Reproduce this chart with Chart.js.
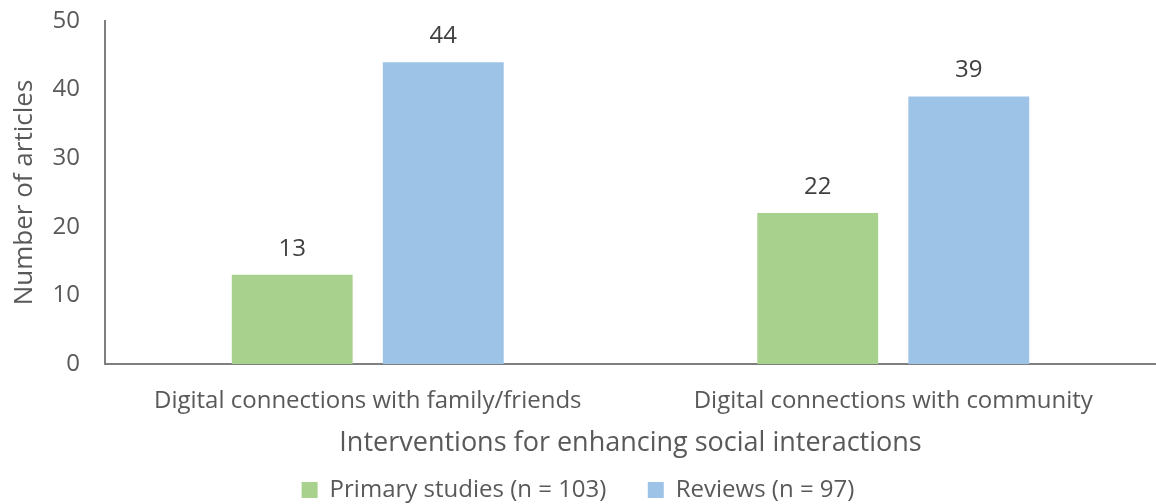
<!DOCTYPE html>
<html>
<head>
<meta charset="utf-8">
<script src="https://cdn.jsdelivr.net/npm/chart.js@4/dist/chart.umd.min.js"></script>
<style>
  html, body { margin: 0; padding: 0; background: #ffffff; }
  #wrap { width: 1156px; height: 504px; position: relative; }
</style>
</head>
<body>
<div id="wrap"><canvas id="chart" width="1156" height="504"></canvas></div>
<script>
const categories = ['Digital connections with family/friends', 'Digital connections with community'];
const primaryStudies = [13, 22];
const reviews = [44, 39];
const seriesNames = ['Primary studies (n = 103)', 'Reviews (n = 97)'];
const yTicks = [0, 10, 20, 30, 40, 50];

const FONT = '"Open Sans", "Noto Sans", sans-serif';
const TEXT = '#595959';
const AXIS = '#7f7f7f';

// Writes each bar's value above it
const valueLabels = {
  id: 'valueLabels',
  afterDatasetsDraw(chart) {
    const ctx = chart.ctx;
    ctx.save();
    ctx.font = '24px ' + FONT;
    ctx.fillStyle = '#404040';
    ctx.textAlign = 'center';
    ctx.textBaseline = 'alphabetic';
    chart.data.datasets.forEach((ds, i) => {
      chart.getDatasetMeta(i).data.forEach((bar, j) => {
        ctx.fillText(String(ds.data[j]), bar.x, bar.y - 19);
      });
    });
    ctx.restore();
  }
};

new Chart(document.getElementById('chart'), {
  type: 'bar',
  data: {
    labels: categories,
    datasets: [
      { label: seriesNames[0], data: primaryStudies, backgroundColor: '#a9d18e' },
      { label: seriesNames[1], data: reviews, backgroundColor: '#9dc3e6' }
    ]
  },
  options: {
    responsive: false,
    animation: false,
    devicePixelRatio: 1,
    layout: { padding: { top: 21, right: 0, left: 0, bottom: -8 } },
    datasets: { bar: { categoryPercentage: 0.575, barPercentage: 0.8 } },
    plugins: {
      legend: {
        position: 'bottom',
        labels: {
          font: { family: FONT, size: 24 },
          color: TEXT,
          boxWidth: 16,
          boxHeight: 16,
          padding: 4,
          // wider gap between the two legend entries
          generateLabels: (chart) => {
            const items = Chart.defaults.plugins.legend.labels.generateLabels(chart);
            items.forEach((it, i) => {
              if (i < items.length - 1) it.text = it.text + '      ';
            });
            return items;
          }
        }
      },
      tooltip: { enabled: false }
    },
    scales: {
      x: {
        afterFit: (scale) => { scale.height = 110; },
        grid: { display: false },
        border: { display: true, color: AXIS, width: 2 },
        ticks: { font: { family: FONT, size: 24 }, color: TEXT, padding: 15, maxRotation: 0 },
        title: {
          display: true,
          text: 'Interventions for enhancing social interactions',
          font: { family: FONT, size: 27 },
          color: TEXT,
          padding: { top: 4, bottom: 14 }
        }
      },
      y: {
        min: 0,
        max: 50,
        afterBuildTicks: (scale) => { scale.ticks = yTicks.map(v => ({ value: v })); },
        afterFit: (scale) => {
          scale.width = 105;
          scale.paddingTop = 0;
          scale.paddingBottom = 0;
        },
        grid: { display: false },
        border: { display: true, color: AXIS, width: 2 },
        ticks: { font: { family: FONT, size: 24 }, color: TEXT, padding: 17 },
        title: {
          display: true,
          text: 'Number of articles',
          font: { family: FONT, size: 26 },
          color: TEXT,
          padding: { top: 9, bottom: 0 }
        }
      }
    }
  },
  plugins: [valueLabels]
});
</script>
</body>
</html>
